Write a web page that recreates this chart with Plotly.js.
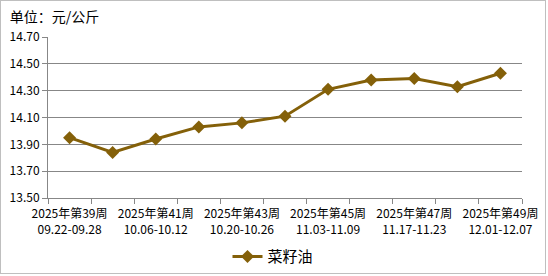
<!DOCTYPE html>
<html>
<head>
<meta charset="utf-8">
<script src="https://cdn.plot.ly/plotly-3.0.1.min.js"></script>
<style>
html,body{margin:0;padding:0;background:#fff;}
#chart{width:544px;height:272px;border:1px solid #bfbfbf;}
</style>
</head>
<body>
<div id="chart"></div>
<script>
const weeks = ["2025年第39周","2025年第40周","2025年第41周","2025年第42周","2025年第43周","2025年第44周","2025年第45周","2025年第46周","2025年第47周","2025年第48周","2025年第49周"];
const dates = ["09.22-09.28","09.29-10.05","10.06-10.12","10.13-10.19","10.20-10.26","10.27-11.02","11.03-11.09","11.10-11.16","11.17-11.23","11.24-11.30","12.01-12.07"];
const rapeseedOil = [13.95, 13.84, 13.94, 14.03, 14.06, 14.11, 14.31, 14.38, 14.39, 14.33, 14.43];
const seriesName = "菜籽油";
const unitTitle = "单位：元/公斤";

const cats = weeks.map((w, i) => w + "<br>" + dates[i]);
const tickText = cats.map((c, i) => (i % 2 === 0 ? c : ""));
const color = "#846009";
const font = "'Noto Sans CJK SC', 'Noto Sans', sans-serif";

Plotly.newPlot("chart", [{
  x: cats,
  y: rapeseedOil,
  name: seriesName,
  type: "scatter",
  mode: "lines+markers",
  line: {color: color, width: 3},
  marker: {symbol: "diamond", size: 10, color: color},
  hoverinfo: "skip"
}], {
  width: 544,
  height: 272,
  margin: {l: 47, r: 23, t: 36, b: 75, autoexpand: false},
  paper_bgcolor: "#fff",
  plot_bgcolor: "#fff",
  font: {family: font, size: 12, color: "#000"},
  title: {
    text: unitTitle,
    font: {family: font, size: 14, color: "#000"},
    xref: "container", yref: "container",
    x: 0.016, xanchor: "left",
    y: 0.94, yanchor: "middle"
  },
  showlegend: true,
  legend: {
    orientation: "h",
    xref: "container", yref: "container",
    x: 0.5, xanchor: "center",
    y: 0.06, yanchor: "middle",
    font: {family: font, size: 15, color: "#000"},
    itemwidth: 30
  },
  xaxis: {
    type: "category",
    range: [-0.5, 10.5],
    tickmode: "array",
    tickvals: cats,
    ticktext: tickText,
    tickson: "boundaries",
    ticks: "outside",
    ticklen: 5,
    tickcolor: "#878787",
    ticklabelstandoff: 5,
    showline: true,
    linecolor: "#878787",
    linewidth: 1,
    showgrid: false,
    tickangle: 0,
    automargin: false,
    tickfont: {family: font, size: 12, color: "#000"},
    fixedrange: true
  },
  yaxis: {
    range: [13.5, 14.7],
    dtick: 0.2,
    tick0: 13.5,
    tickformat: ".2f",
    ticks: "outside",
    ticklen: 5,
    tickcolor: "#878787",
    showline: true,
    linecolor: "#878787",
    linewidth: 1,
    showgrid: true,
    gridcolor: "#878787",
    gridwidth: 1,
    zeroline: false,
    automargin: false,
    tickfont: {family: font, size: 12, color: "#000"},
    fixedrange: true
  }
}, {displayModeBar: false, staticPlot: true});
</script>
</body>
</html>
